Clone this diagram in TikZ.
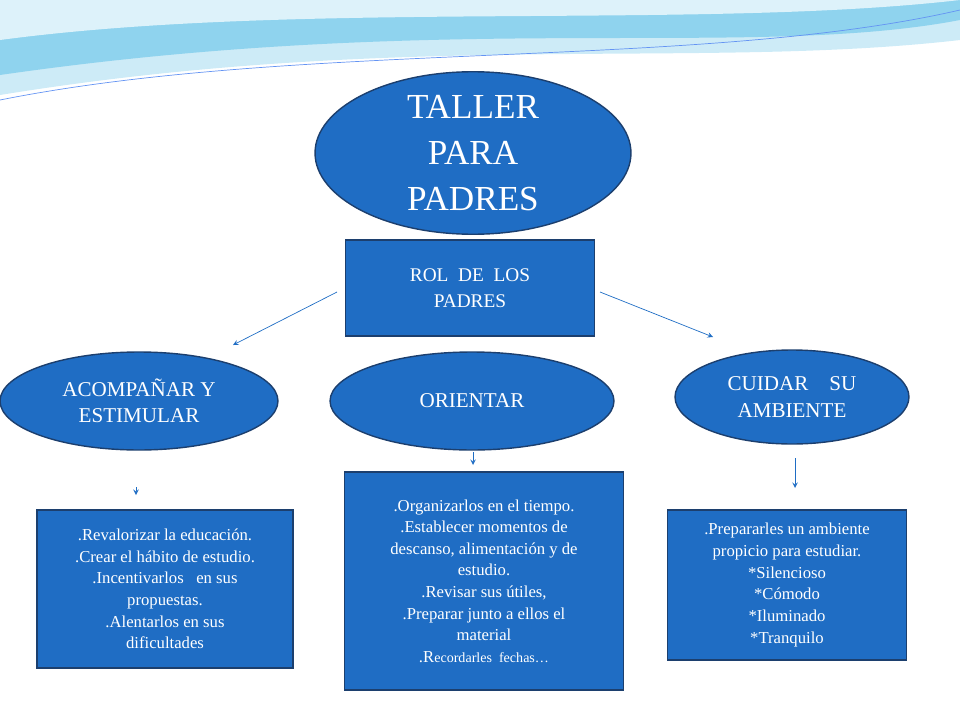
\documentclass[tikz,border=0pt]{standalone}
\usepackage{fontspec}
\setmainfont{Liberation Serif}
\usetikzlibrary{shapes.geometric}
\definecolor{boxblue}{HTML}{1F6DC4}
\definecolor{edgeblue}{HTML}{1C3F6E}
\definecolor{wave}{HTML}{8FD3EE}
\definecolor{wavelight}{HTML}{CDEBF7}
\tikzset{
  oval/.style={ellipse,draw=edgeblue,fill=boxblue,text=white,thick,inner sep=0pt,align=center,font=\fontsize{12}{15}\selectfont},
  card/.style={rectangle,draw=edgeblue,fill=boxblue,text=white,thick,inner sep=0pt,align=center,font=\fontsize{9.5}{12.3}\selectfont},
  link/.style={->,draw=boxblue,>=stealth}
}
\begin{document}
\begin{tikzpicture}[x=0.02cm,y=-0.02cm]
  \useasboundingbox (0,0) rectangle (960,720);
  % waves
  \fill[wavelight] (0,0) -- (960,0) -- (960,40) .. controls (700,70) and (400,30) .. (0,95) -- cycle;
  \fill[wave] (0,0) -- (960,0) -- (960,20) .. controls (750,60) and (450,10) .. (0,75) -- cycle;
  \fill[white!70!wave] (0,0) -- (960,0) .. controls (700,30) and (300,0) .. (0,40) -- cycle;
  \draw[wave!70!blue] (0,100) .. controls (300,40) and (700,70) .. (960,10);
  % nodes
  \node[oval,minimum width=316\pgflinewidth*0+6.32cm,minimum height=2.8cm,font=\fontsize{20}{26}\selectfont] (taller) at (473,153) {TALLER\\PARA\\PADRES};
  \node[card,minimum width=4.98cm,minimum height=1.92cm,font=\fontsize{11}{15}\selectfont] (rol) at (470,288) {ROL\ \ DE\ \ LOS\\PADRES};
  \node[oval,minimum width=5.56cm,minimum height=1.96cm] (acomp) at (139,401) {ACOMPAÑAR Y\\ESTIMULAR};
  \node[oval,minimum width=5.68cm,minimum height=1.96cm] (orient) at (472,401) {ORIENTAR};
  \node[oval,minimum width=4.68cm,minimum height=1.88cm] (cuidar) at (792,397) {CUIDAR\ \ \ \ SU\\AMBIENTE};
  \node[card,minimum width=5.12cm,minimum height=3.16cm] (left) at (165,589)
    {.Revalorizar la educación.\\.Crear el hábito de estudio.\\.Incentivarlos\ \ \ en sus\\propuestas.\\.Alentarlos en sus\\dificultades};
  \node[card,minimum width=5.58cm,minimum height=4.36cm] (mid) at (484,581)
    {.Organizarlos en el tiempo.\\.Establecer momentos de\\descanso, alimentación y de\\estudio.\\.Revisar sus útiles,\\.Preparar junto a ellos el\\material\\.R{\fontsize{8}{12.3}\selectfont ecordarles\ \ fechas…}};
  \node[card,minimum width=4.78cm,minimum height=3.0cm] (right) at (787,585)
    {.Prepararles un ambiente\\propicio para estudiar.\\*Silencioso\\*Cómodo\\*Iluminado\\*Tranquilo};
  % connectors
  \coordinate (rolL) at (337,292);
  \coordinate (rolR) at (600,292);
  \coordinate (acompT) at (233,345);
  \coordinate (cuidarT) at (713,337);
  \draw[link] (rolL) -- (acompT);
  \draw[link] (rolR) -- (cuidarT);
  \coordinate (a1) at (136,487); \coordinate (a2) at (136,495);
  \coordinate (o1) at (473,452); \coordinate (o2) at (473,465);
  \coordinate (c1) at (795,458); \coordinate (c2) at (795,488);
  \draw[link] (a1) -- (a2);
  \draw[link] (o1) -- (o2);
  \draw[link] (c1) -- (c2);
\end{tikzpicture}
\end{document}
